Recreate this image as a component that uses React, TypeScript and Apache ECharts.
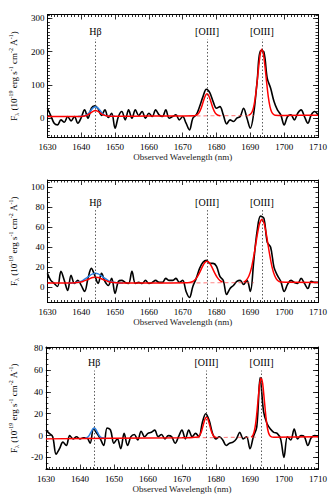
import React, { useEffect, useRef } from "react";
import * as echarts from "echarts";

const FONT = "Liberation Serif";

// wavelength grid (nm) of the observed spectra
const wave = Array.from({ length: 81 }, (_, i) => 1630 + i);

const spec1 = [
  30, 8, -15, -20, -5, -12, 5, -8, 5, -15,
  2, 25, 0, 30, 37, 28, 8, 25, 2, 15,
  -30, 5, 20, -5, 25, 0, 25, 8, 20, 0,
  15, 5, 25, 10, 5, 25, 0, 5, 10, -5,
  5, -15, -35, 0, 10, 35, 65, 87, 77, 50,
  30, 35, 10, -17, -5, -10, 0, 5, 30, 0,
  -30, 15, 110, 203, 199, 120, 90, 50, 25, 10,
  -20, 5, 10, -5, 15, 25, 5, -15, 10, 20,
  10,
];

const spec2 = [
  14, 7, 4, 1, 16, 7, -3, 12, 4, 7,
  2, -4, 9, 19, 12, 4, 14, 6, 2, 9,
  -6, 6, 7, 5, 4, 16, 4, 5, 4, 7,
  4, 5, 7, 5, 5, 9, 7, 7, 9, 5,
  7, -4, -10, 1, 9, 19, 25, 27, 24, 24,
  21, 11, 7, -7, -1, 2, 6, 7, 3, 7,
  -4, 26, 56, 71, 69, 45, 40, 20, 12, 6,
  -4, 3, 7, 5, 4, 9, 4, -1, 6, 5,
  5,
];

const spec3 = [
  5, 2, -1, -17, -12, -6, -9, 0, -3, -1,
  -3, -2, -2, -7, 6, 2, -3, -9, 7, 5,
  -7, -3, -12, 2, -9, -1, 1, -4, 4, -1,
  2, 3, 5, -1, 1, -3, 0, -1, -7, -1,
  5, -3, 5, -1, 2, -1, 12, 20, 14, 2,
  -3, -1, -4, -9, -7, -6, -3, 3, -3, -1,
  -12, -1, 8, 53, 22, 11, 6, 3, 2, -3,
  -20, -1, -4, 6, -3, 0, -1, -9, -2, 0,
  -1,
];

// emission lines: label and observed wavelength (nm)
const lineNames = ["Hβ", "[OIII]", "[OIII]"];
const lineWaves = [1644.2, 1677.2, 1693.4];

// red model fits [wavelength, flux]
const red1Left: [number, number][] = [
  [1630, 5], [1640, 5.5], [1641, 6.8], [1641.5, 8.3], [1642, 10.6], [1642.5, 13.8],
  [1643, 17.5], [1643.6, 21.2], [1644.2, 22.9], [1644.8, 21.2], [1645.4, 17.6],
  [1645.9, 13.9], [1646.4, 10.7], [1646.9, 8.5], [1647.4, 7.1], [1648.2, 6.2],
  [1650, 6.0], [1660, 6.5], [1670, 7.0], [1673.3, 7.4], [1673.8, 8.6], [1674.3, 11.0],
  [1674.8, 16.3], [1675.3, 26.3], [1675.8, 40.8], [1676.3, 57.2], [1676.75, 68.9],
  [1677.2, 73.4], [1677.65, 68.9], [1678.1, 57.2], [1678.6, 40.8], [1679.1, 26.3],
  [1679.6, 16.3], [1680.1, 11.0], [1680.6, 8.6], [1681.1, 7.7],
];
const red1Right: [number, number][] = [
  [1689.5, 9.2], [1690, 11.8], [1690.5, 18.9], [1691, 35.1], [1691.5, 65.1],
  [1692, 108.9], [1692.5, 158.4], [1692.95, 193.7], [1693.4, 207.2], [1693.85, 193.7],
  [1694.3, 158.4], [1694.8, 108.9], [1695.3, 65.1], [1695.8, 35.1], [1696.3, 18.9],
  [1696.8, 11.8], [1697.3, 9.2], [1700, 8.5], [1710, 9],
];
const blue1: [number, number][] = [
  [1639, 5.5], [1640, 5.8], [1641, 7.7], [1641.5, 9.2], [1642, 13.0], [1642.5, 18.7],
  [1643, 25.7], [1643.6, 32.1], [1644.2, 34.8], [1644.8, 32.1], [1645.4, 25.8],
  [1645.9, 18.9], [1646.4, 13.2], [1646.9, 9.4], [1647.4, 7.8], [1648.2, 6.3],
  [1649, 6.0], [1650, 6.0],
];
const cont1: [number, number][] = [[1672, 7.1], [1691, 8.0]];

const red2Left: [number, number][] = [
  [1630, 4.3], [1636, 4.4], [1638, 4.6], [1639.5, 5.1], [1640.5, 6.0], [1641.5, 7.3],
  [1642.5, 8.7], [1643.4, 9.8], [1644.2, 10.1], [1645.0, 9.8], [1645.9, 8.7],
  [1646.9, 7.3], [1647.9, 6.0], [1648.9, 5.1], [1650.4, 4.6], [1652.4, 4.4],
  [1665, 4.5], [1671.5, 4.6], [1672.6, 5.4], [1673.4, 6.9], [1674.2, 10.0],
  [1675.0, 14.8], [1675.8, 20.5], [1676.5, 24.5], [1677.2, 26.1], [1677.9, 24.5],
  [1678.6, 20.5], [1679.4, 14.8], [1680.2, 10.0], [1681.0, 6.9], [1681.8, 5.4],
];
const red2Right: [number, number][] = [
  [1688.0, 5.1], [1688.8, 7.2], [1689.6, 11.6], [1690.4, 20.5], [1691.2, 34.8],
  [1692.0, 51.5], [1692.7, 63.4], [1693.4, 68.0], [1694.1, 63.4], [1694.8, 51.5],
  [1695.6, 34.8], [1696.4, 20.5], [1697.2, 11.6], [1698.0, 7.2], [1699.0, 5.3],
  [1710, 5.0],
];
const blue2: [number, number][] = [
  [1636, 4.4], [1638, 4.7], [1639.5, 5.6], [1640.5, 7.1], [1641.5, 9.3], [1642.5, 11.8],
  [1643.4, 13.5], [1644.2, 14.1], [1645.0, 13.5], [1645.9, 11.8], [1646.9, 9.3],
  [1647.9, 7.1], [1648.9, 5.6], [1650.4, 4.7], [1652.4, 4.4],
];
const cont2: [number, number][] = [[1672, 4.6], [1691, 4.8]];

const red3Left: [number, number][] = [
  [1630, -3.0], [1650, -2.5], [1670, -2.0], [1674.8, -1.2], [1675.3, 0.6],
  [1675.8, 4.4], [1676.3, 10.1], [1676.75, 15.0], [1677.2, 17.0], [1677.65, 15.0],
  [1678.1, 10.1], [1678.6, 4.4], [1679.1, 0.6], [1679.6, -1.2], [1680.2, -1.9],
];
const red3Right: [number, number][] = [
  [1690.4, -1.5], [1690.9, 0.6], [1691.4, 5.8], [1691.9, 16.9], [1692.4, 33.2],
  [1692.85, 47.2], [1693.3, 53.0], [1693.75, 47.2], [1694.2, 33.2], [1694.7, 16.9],
  [1695.2, 5.8], [1695.7, 0.6], [1696.3, -1.2], [1697, -1.5], [1710, -1.0],
];
const blue3: [number, number][] = [
  [1641.5, -2.3], [1642.2, -1.6], [1642.8, 0.4], [1643.4, 3.9], [1643.8, 6.1],
  [1644.2, 7.0], [1644.6, 6.1], [1645.0, 3.9], [1645.6, 0.4], [1646.2, -1.6],
  [1646.9, -2.3], [1647.5, -2.4],
];
const cont3: [number, number][] = [[1672, -2.0], [1692, -1.5]];

// y-axis ranges, labelled ticks, minor tick step
const yRange1 = [-58, 312];
const yRange2 = [-15, 107];
const yRange3 = [-31, 81];
const yTicks1 = [0, 100, 200, 300];
const yTicks2 = [0, 20, 40, 60, 80, 100];
const yTicks3 = [-20, 0, 20, 40, 60, 80];
const lineTops = [238, 77, 59.5];

const panels = [
  { top: 14.5, height: 123, range: yRange1, ticks: yTicks1, minor: 10, spec: spec1, redL: red1Left, redR: red1Right, blue: blue1, cont: cont1, lineTop: lineTops[0] },
  { top: 180, height: 122.5, range: yRange2, ticks: yTicks2, minor: 5, spec: spec2, redL: red2Left, redR: red2Right, blue: blue2, cont: cont2, lineTop: lineTops[1] },
  { top: 347, height: 122.5, range: yRange3, ticks: yTicks3, minor: 5, spec: spec3, redL: red3Left, redR: red3Right, blue: blue3, cont: cont3, lineTop: lineTops[2] },
];

function minorValues(min: number, max: number, step: number) {
  const out: number[] = [];
  for (let v = Math.ceil(min / step) * step; v <= max; v += step) out.push(v);
  return out;
}

const yName =
  "{a|F}{s|λ}{a| (10}{p|-19}{a| erg s}{p|-1}{a| cm}{p|-2}{a| Å}{p|-1}{a|)}";

const plain = (v: number) => String(v);

function buildOption() {
  const grid: any[] = [];
  const xAxis: any[] = [];
  const yAxis: any[] = [];
  const series: any[] = [];

  panels.forEach((p, i) => {
    grid.push({ left: 45, width: 273, top: p.top, height: p.height, show: false });
    const xBase = {
      type: "value",
      gridIndex: i,
      min: 1630,
      max: 1710,
      interval: 10,
      splitLine: { show: false },
      axisLine: { show: true, onZero: false, lineStyle: { color: "#000", width: 1 } },
      axisTick: { show: true, inside: true, length: 5, lineStyle: { color: "#000", width: 0.8 } },
      minorTick: { show: true, splitNumber: 10, length: 2.5, lineStyle: { color: "#000", width: 0.8 } },
      minorSplitLine: { show: false },
    };
    xAxis.push({
      ...xBase,
      position: "bottom",
      name: "Observed Wavelength (nm)",
      nameLocation: "middle",
      nameGap: 14,
      nameTextStyle: { fontFamily: FONT, fontSize: 9, color: "#222" },
      axisLabel: { show: true, formatter: plain, fontFamily: FONT, fontSize: 9, color: "#000", margin: 5, showMinLabel: true, showMaxLabel: true },
    });
    xAxis.push({ ...xBase, position: "top", axisLabel: { show: false } });

    const minors = minorValues(p.range[0], p.range[1], p.minor);
    const yBase = {
      type: "value",
      gridIndex: i,
      min: p.range[0],
      max: p.range[1],
      splitLine: { show: false },
    };
    const majorTick = { show: true, inside: true, length: 5, customValues: p.ticks, lineStyle: { color: "#000", width: 0.8 } };
    const minorTick = { show: true, inside: true, length: 2.5, customValues: minors, lineStyle: { color: "#000", width: 0.8 } };
    yAxis.push({
      ...yBase,
      position: "left",
      axisLine: { show: true, onZero: false, lineStyle: { color: "#000", width: 1 } },
      axisTick: majorTick,
      axisLabel: { show: true, customValues: p.ticks, formatter: plain, fontFamily: FONT, fontSize: 9, color: "#000", margin: 3 },
      name: yName,
      nameLocation: "middle",
      nameRotate: 90,
      nameGap: 17,
      nameTextStyle: {
        fontFamily: FONT,
        color: "#000",
        rich: {
          a: { fontFamily: FONT, fontSize: 9, lineHeight: 12, color: "#000" },
          s: { fontFamily: FONT, fontSize: 6, lineHeight: 7, verticalAlign: "bottom", color: "#000" },
          p: { fontFamily: FONT, fontSize: 6, lineHeight: 7, verticalAlign: "top", color: "#000" },
        },
      },
    });
    yAxis.push({ ...yBase, position: "left", axisLine: { show: false, onZero: false }, axisTick: minorTick, axisLabel: { show: false } });
    yAxis.push({ ...yBase, position: "right", axisLine: { show: true, onZero: false, lineStyle: { color: "#000", width: 1 } }, axisTick: majorTick, axisLabel: { show: false } });
    yAxis.push({ ...yBase, position: "right", axisLine: { show: false, onZero: false }, axisTick: minorTick, axisLabel: { show: false } });

    const xi = 2 * i;
    const yi = 4 * i;

    series.push({
      type: "line",
      xAxisIndex: xi,
      yAxisIndex: yi,
      data: wave.map((w, k) => [w, p.spec[k]]),
      showSymbol: false,
      smooth: 0.35,
      lineStyle: { color: "#000", width: 1.6 },
      z: 2,
      markLine: {
        silent: true,
        symbol: ["none", "none"],
        lineStyle: { type: [1.5, 2], color: "#333", width: 0.8 },
        label: { show: true, position: "end", formatter: "{b}", fontFamily: FONT, fontSize: 10, color: "#000", distance: 3 },
        data: lineWaves.map((w, k) => [
          { coord: [w, p.range[0]], name: lineNames[k] },
          { coord: [w, p.lineTop] },
        ]),
      },
    });
    series.push({
      type: "line",
      xAxisIndex: xi,
      yAxisIndex: yi,
      data: p.cont,
      showSymbol: false,
      lineStyle: { color: "rgba(255,60,60,0.6)", width: 1.2, type: [4, 3] },
      z: 3,
    });
    series.push({
      type: "line",
      xAxisIndex: xi,
      yAxisIndex: yi,
      data: [...p.redL, [1685, "-"], ...p.redR],
      showSymbol: false,
      smooth: 0.2,
      lineStyle: { color: "#ff0000", width: 1.5 },
      z: 4,
    });
    series.push({
      type: "line",
      xAxisIndex: xi,
      yAxisIndex: yi,
      data: p.blue,
      showSymbol: false,
      smooth: 0.2,
      lineStyle: { color: "#2a7fe0", width: 1.5 },
      z: 3,
    });
  });

  return {
    animation: false,
    backgroundColor: "#fff",
    grid,
    xAxis,
    yAxis,
    series,
  };
}

export default function App() {
  const ref = useRef<HTMLDivElement>(null);
  useEffect(() => {
    if (!ref.current) return;
    const chart = echarts.init(ref.current, undefined, { renderer: "svg" });
    chart.setOption(buildOption() as any);
    return () => chart.dispose();
  }, []);
  return (
    <div
      ref={ref}
      style={{ position: "absolute", left: 0, top: 0, width: 332, height: 498, background: "#fff" }}
    />
  );
}
